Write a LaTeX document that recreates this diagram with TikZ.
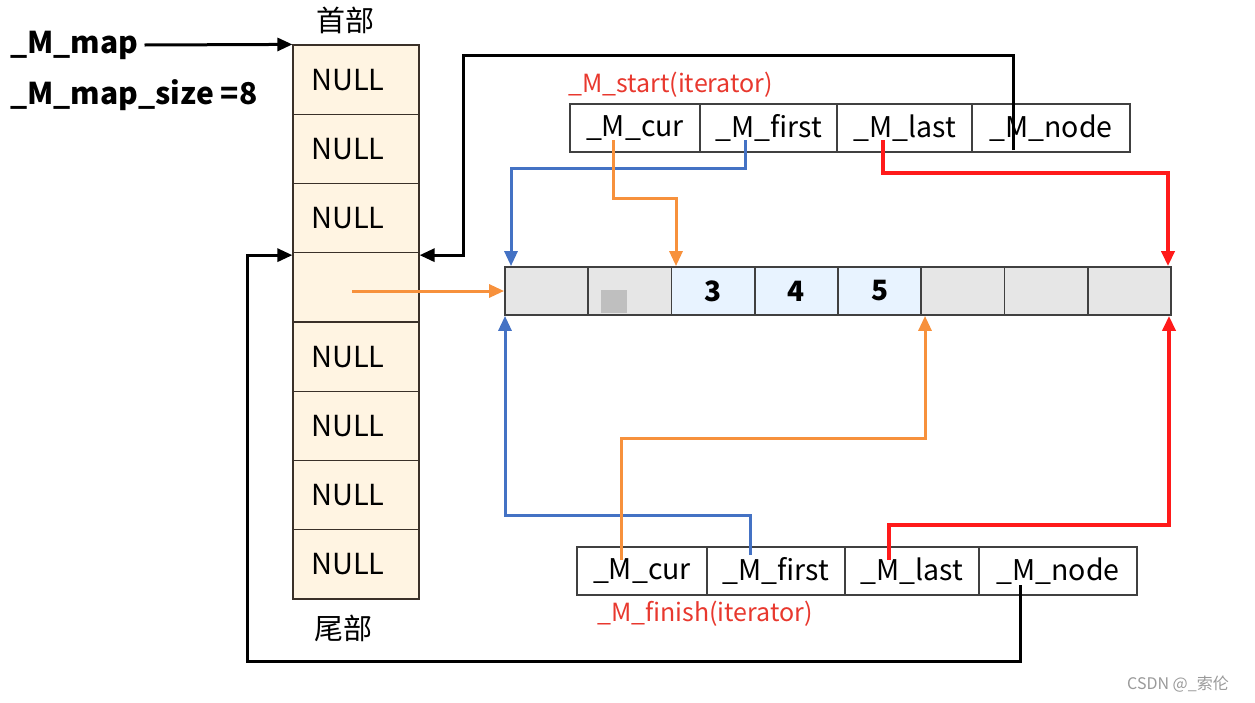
\documentclass[tikz,border=0pt]{standalone}
\usepackage{fontspec}
\setmainfont{Noto Sans CJK SC}
\usetikzlibrary{arrows.meta,positioning}
\definecolor{mapfill}{HTML}{FFF4E2}
\definecolor{mapline}{HTML}{3A3028}
\definecolor{bufgray}{HTML}{E6E6E6}
\definecolor{bufblue}{HTML}{E8F3FF}
\definecolor{bufline}{HTML}{404040}
\definecolor{lineblue}{HTML}{4472C4}
\definecolor{lineorange}{HTML}{F7913C}
\definecolor{linered}{HTML}{FF1A1A}
\definecolor{labelred}{HTML}{E8382E}
\tikzset{
  mapcell/.style={draw=mapline, line width=1.2pt, fill=mapfill, minimum width=126pt,
    minimum height=69.25pt, inner sep=0pt, font=\fontsize{29}{32}\selectfont},
  bufcell/.style={draw=bufline, line width=1.8pt, minimum width=83.25pt,
    minimum height=48pt, inner sep=0pt, font=\bfseries\fontsize{28}{30}\selectfont},
  itcell/.style={draw=bufline, line width=1.2pt, minimum height=48pt, inner sep=0pt,
    font=\fontsize{28.5}{30}\selectfont},
  redlabel/.style={anchor=west, text=labelred, inner sep=0pt, font=\fontsize{25}{28}\selectfont},
  tip/.style={-{Triangle[length=15pt,width=13pt]}},
  blackline/.style={tip, draw=black, line width=3pt},
  blueline/.style={tip, draw=lineblue, line width=3pt},
  orangeline/.style={tip, draw=lineorange, line width=3pt},
  redline/.style={tip, draw=linered, line width=3.6pt},
}
\begin{document}
\begin{tikzpicture}[x=1pt, y=-1pt]
    \useasboundingbox (0,0) rectangle (1255,702);
    % Map column
    \foreach \i/\txt in {1/NULL,2/NULL,3/NULL,4/{},5/NULL,6/NULL,7/NULL,8/NULL}
        \node[mapcell] (m\i) at (356,{45+69.25*(\i-0.5)}) {\txt\kern16pt};
    \node (head) at (345,20) {\fontsize{29}{30}\selectfont 首部};
    \node (tail) at (343,628) {\fontsize{29}{30}\selectfont 尾部};
    % Map pointer and size
    \node[anchor=west, inner sep=0pt, font=\bfseries\fontsize{30}{32}\selectfont] (mapname) at (10,45) {\_M\_map};
    \node[anchor=west, inner sep=0pt, font=\bfseries\fontsize{30}{32}\selectfont] (mapsize) at (10,95) {\_M\_map\_size =8};
    \draw[blackline] ([xshift=6pt]mapname.east) -- (m1.north west);
    % Buffer
    \foreach \i/\txt/\col in {1/{}/bufgray,2/{}/bufgray,3/3/bufblue,4/4/bufblue,
        5/5/bufblue,6/{}/bufgray,7/{}/bufgray,8/{}/bufgray}
        \node[bufcell, fill=\col] (b\i) at ({505+83.25*(\i-0.5)},291) {\txt};
    \fill[gray!50] (601,290) rectangle (627,313);
    % Start iterator
    \node[itcell, minimum width=130pt] (s1) at (635,128) {\_M\_cur};
    \node[itcell, minimum width=137pt] (s2) at (768.5,128) {\_M\_first};
    \node[itcell, minimum width=135pt] (s3) at (904.5,128) {\_M\_last};
    \node[itcell, minimum width=158pt] (s4) at (1051,128) {\_M\_node};
    \node[redlabel] (startlbl) at (568,85) {\_M\_start(iterator)};
    % Finish iterator
    \node[itcell, minimum width=130pt] (f1) at (642,571) {\_M\_cur};
    \node[itcell, minimum width=138pt] (f2) at (776,571) {\_M\_first};
    \node[itcell, minimum width=134pt] (f3) at (912,571) {\_M\_last};
    \node[itcell, minimum width=158pt] (f4) at (1058,571) {\_M\_node};
    \node[redlabel] (finishlbl) at (597,614) {\_M\_finish(iterator)};
    % Bends
    \coordinate (nodetop) at (463,55);
    \coordinate (nodebot) at (247,661);
    \coordinate (sb) at (511,168);
    \coordinate (so) at (676,198);
    \coordinate (sr) at (1168,173);
    \coordinate (fb) at (505,515);
    \coordinate (fo) at (925,438);
    \coordinate (fr) at (1169,525);
    % Node pointers
    \draw[blackline] ([xshift=-38pt,yshift=-22pt]s4.center) |- (nodetop) |- ([yshift=-3pt]m4.north east);
    \draw[blackline] ([xshift=-38pt,yshift=-14pt]f4.center) |- (nodebot) |- ([yshift=-3pt]m4.north west);
    \draw[orangeline] (m4.center |- b1.west) ++(-4,0) -- (b1.west);
    % Start pointers
    \draw[blueline] ([xshift=-23.5pt,yshift=-12pt]s2.center) |- (sb) -- (sb |- b1.north);
    \draw[orangeline] ([xshift=-22pt,yshift=-12pt]s1.center) |- (so) -- (so |- b3.north);
    \draw[redline] ([xshift=-21.5pt,yshift=-12pt]s3.center) |- (sr) -- (sr |- b8.north);
    % Finish pointers
    \draw[blueline] ([xshift=-26pt,yshift=16pt]f2.center) |- (fb) -- (fb |- b1.south);
    \draw[orangeline] ([xshift=-21pt,yshift=11pt]f1.center) |- (fo) -- (fo |- b6.south);
    \draw[redline] ([xshift=-23pt,yshift=11pt]f3.center) |- (fr) -- (fr |- b8.south);
    % Watermark
    \node[text=gray!80, font=\fontsize{16}{18}\selectfont] (mark) at (1178,684) {CSDN @\_索伦};
\end{tikzpicture}
\end{document}
